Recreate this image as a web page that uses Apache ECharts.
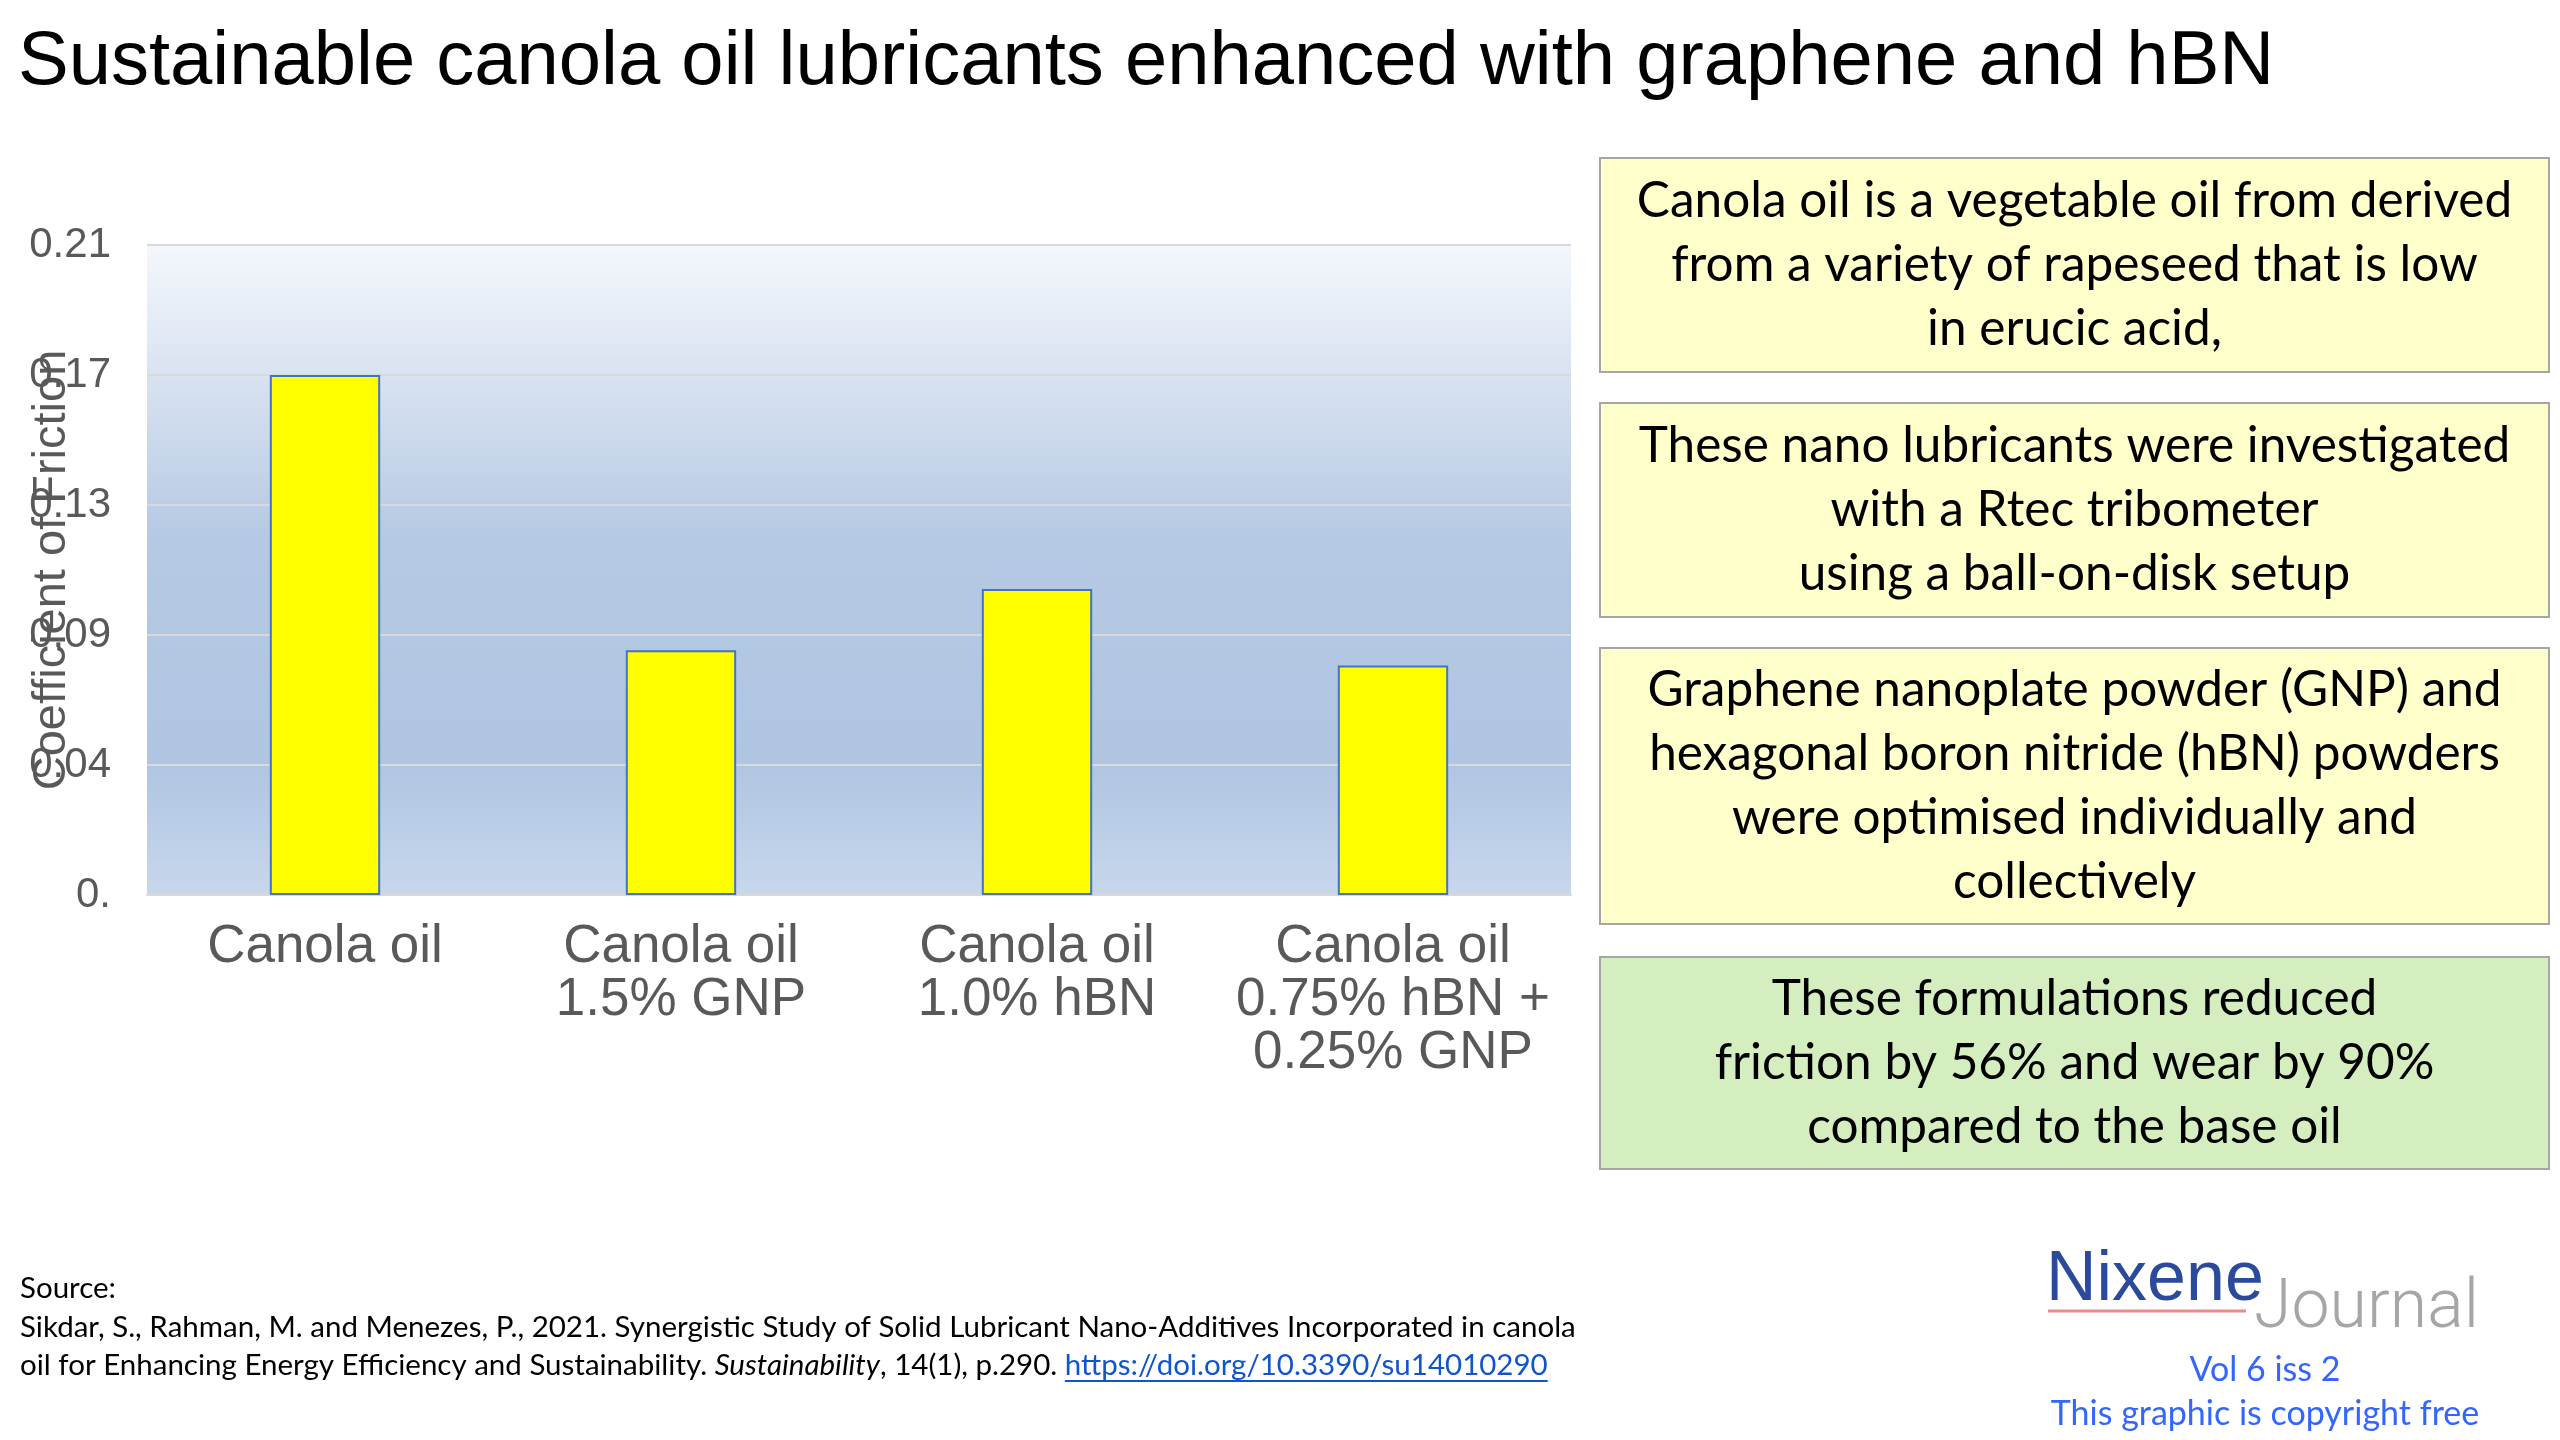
<!DOCTYPE html>
<html><head><meta charset="utf-8">
<script src="https://cdn.jsdelivr.net/npm/echarts@6/dist/echarts.min.js"></script>
<style>html,body{margin:0;padding:0;background:#fff}#c{width:2560px;height:1440px}</style>
</head><body><div id="c"></div>
<script>
// ---- data ----
const categories = ['Canola oil', 'Canola oil\n1.5% GNP', 'Canola oil\n1.0% hBN', 'Canola oil\n0.75% hBN +\n0.25% GNP'];
const frictionValues = [0.17, 0.08, 0.10, 0.075];
const yTickLabels = ['0.', '0.04', '0.09', '0.13', '0.17', '0.21'];
const yAxisName = 'Coefficient of Friction';
const titleText = 'Sustainable canola oil lubricants enhanced with graphene and hBN';
const boxTexts = [
  'Canola oil is a vegetable oil from derived\nfrom a variety of rapeseed that is low\nin erucic acid,',
  'These nano lubricants were investigated\nwith a Rtec tribometer\nusing a ball-on-disk setup',
  'Graphene nanoplate powder (GNP) and\nhexagonal boron nitride (hBN) powders\nwere optimised individually and\ncollectively',
  'These formulations reduced\nfriction by 56% and wear by 90%\ncompared to the base oil'
];
const sourceLine1 = 'Source:';
const sourceLine2 = 'Sikdar, S., Rahman, M. and Menezes, P., 2021. Synergistic Study of Solid Lubricant Nano-Additives Incorporated in canola';
const sourceLine3a = 'oil for Enhancing Energy Efficiency and Sustainability. ';
const sourceLine3b = 'Sustainability';
const sourceLine3c = ', 14(1), p.290. ';
const sourceLink = 'https://doi.org/10.3390/su14010290';

// ---- layout ----
const boxRects = [
  {y: 158, h: 214, fill: '#FFFFCC'},
  {y: 403, h: 214, fill: '#FFFFCC'},
  {y: 648, h: 276, fill: '#FFFFCC'},
  {y: 957, h: 212, fill: '#D5EEC0'}
];
const boxX = 1600, boxW = 949;
const boxFont = 'Lato';
const footFont = 'Lato';
const footSize = 29.5;

function measure(txt, font) {
  const c = document.createElement('canvas').getContext('2d');
  c.font = font; return c.measureText(txt).width;
}

const graphics = [];
graphics.push({type: 'text', left: 18, top: 25, style: {text: titleText, fontSize: 76, fontFamily: 'Liberation Sans', fill: '#000'}});
boxRects.forEach((b, i) => {
  graphics.push({type: 'rect', shape: {x: boxX, y: b.y, width: boxW, height: b.h}, style: {fill: b.fill, stroke: '#A6A6A6', lineWidth: 2}});
  graphics.push({type: 'text', x: boxX + boxW / 2, y: b.y + b.h / 2, style: {text: boxTexts[i], fontSize: 49.5, fontFamily: boxFont, fill: '#000', align: 'center', verticalAlign: 'middle', lineHeight: 64}});
});
// footer
graphics.push({type: 'text', x: 20, y: 1288, style: {text: sourceLine1, fontSize: footSize, fontFamily: footFont, fill: '#000', verticalAlign: 'middle'}});
graphics.push({type: 'text', x: 20, y: 1327, style: {text: sourceLine2, fontSize: footSize, fontFamily: footFont, fill: '#000', verticalAlign: 'middle'}});
graphics.push({type: 'text', x: 20, y: 1365, style: {
  text: '{n|' + sourceLine3a + '}{i|' + sourceLine3b + '}{n|' + sourceLine3c + '}{l|' + sourceLink + '}',
  verticalAlign: 'middle',
  rich: {
    n: {fontSize: footSize, fontFamily: footFont, fill: '#000'},
    i: {fontSize: footSize, fontFamily: footFont, fontStyle: 'italic', fill: '#000'},
    l: {fontSize: footSize, fontFamily: footFont, fill: '#1155CC'}
  }
}});
const nf = footSize + 'px ' + footFont;
const linkX = 20 + measure(sourceLine3a, nf) + measure(sourceLine3b, 'italic ' + nf) + measure(sourceLine3c, nf);
const linkW = measure(sourceLink, nf);
graphics.push({type: 'line', shape: {x1: linkX, y1: 1381, x2: linkX + linkW, y2: 1381}, style: {stroke: '#1155CC', lineWidth: 2}});
// logo
graphics.push({type: 'text', x: 2046, y: 1316, style: {text: 'Nixene', fontSize: 70, fontFamily: 'Liberation Sans', fill: '#2B4A9B', verticalAlign: 'bottom'}});
graphics.push({type: 'line', shape: {x1: 2048, y1: 1311, x2: 2246, y2: 1311}, style: {stroke: '#F08A8A', lineWidth: 3}});
graphics.push({type: 'text', x: 2254, y: 1344, style: {text: 'Journal', fontSize: 68, fontFamily: 'Roboto', fontWeight: 300, fill: '#A6A6A6', verticalAlign: 'bottom'}});
graphics.push({type: 'text', x: 2265, y: 1370, style: {text: 'Vol 6 iss 2', fontSize: 34, fontFamily: footFont, fill: '#3366FF', align: 'center', verticalAlign: 'middle'}});
graphics.push({type: 'text', x: 2265, y: 1414, style: {text: 'This graphic is copyright free', fontSize: 34, fontFamily: footFont, fill: '#3366FF', align: 'center', verticalAlign: 'middle'}});

const chart = echarts.init(document.getElementById('c'), null, {renderer: 'canvas'});
chart.setOption({
  animation: false,
  backgroundColor: '#fff',
  grid: {
    left: 147, right: 989, top: 245, bottom: 545, show: true, borderWidth: 0,
    containLabel: false, outerBoundsMode: 'none',
    backgroundColor: new echarts.graphic.LinearGradient(0, 0, 0, 1, [
      {offset: 0, color: '#F4F7FC'},
      {offset: 0.45, color: '#B5C9E3'},
      {offset: 0.8, color: '#B0C5E2'},
      {offset: 1, color: '#C7D7EC'}
    ])
  },
  xAxis: {
    type: 'category', data: categories,
    axisLine: {show: true, lineStyle: {color: '#D9D9D9', width: 2}},
    axisTick: {show: false},
    axisLabel: {color: '#595959', fontSize: 53, fontFamily: 'Liberation Sans', lineHeight: 53, margin: 26, interval: 0}
  },
  yAxis: {
    type: 'value', min: 0, max: 0.2125, interval: 0.0425,
    name: yAxisName, nameLocation: 'middle', nameGap: 71, nameMoveOverlap: false,
    nameTextStyle: {color: '#595959', fontSize: 47, fontFamily: 'Liberation Sans'},
    axisLine: {show: false}, axisTick: {show: false},
    splitLine: {lineStyle: {color: '#D9D9D9', width: 2}},
    axisLabel: {color: '#595959', fontSize: 42, fontFamily: 'Liberation Sans', margin: 36,
      formatter: v => yTickLabels[Math.round(v / 0.0425)]}
  },
  series: [{
    type: 'bar', data: frictionValues, barWidth: '31%',
    itemStyle: {color: '#FFFF00', borderColor: '#4472C4', borderWidth: 2}
  }],
  graphic: graphics
});
</script></body></html>
